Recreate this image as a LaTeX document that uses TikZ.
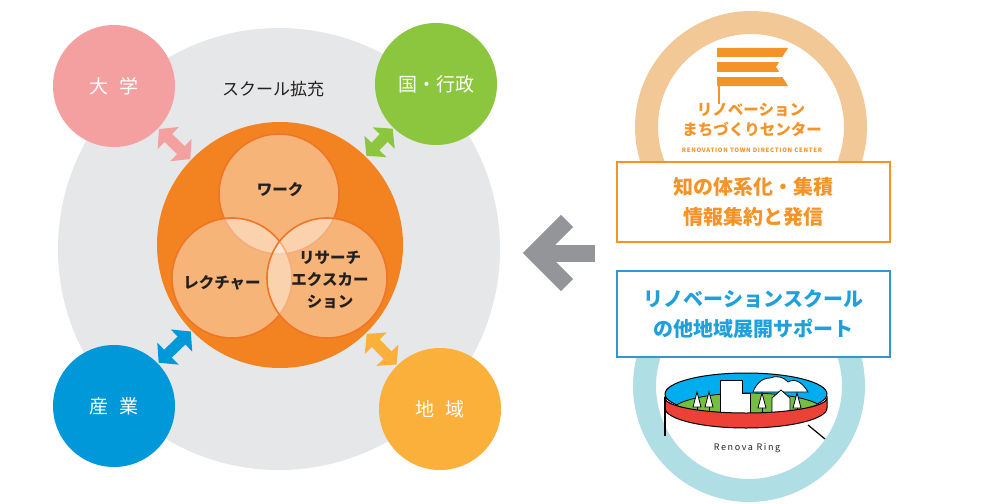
\documentclass[tikz,border=0pt]{standalone}
\usepackage{fontspec}
\setmainfont{Noto Sans CJK JP}
\usetikzlibrary{arrows.meta}
\definecolor{field}{RGB}{230,231,232}
\definecolor{core}{RGB}{243,130,32}
\definecolor{vennline}{RGB}{238,118,38}
\definecolor{rose}{RGB}{244,160,160}
\definecolor{lime}{RGB}{140,198,63}
\definecolor{sky}{RGB}{0,152,216}
\definecolor{sun}{RGB}{251,176,59}
\definecolor{slate}{RGB}{147,149,152}
\definecolor{peach}{RGB}{241,200,150}
\definecolor{tangerine}{RGB}{244,148,40}
\definecolor{azure}{RGB}{30,160,222}
\definecolor{boxblue}{RGB}{50,150,210}
\definecolor{mint}{RGB}{175,222,228}
\definecolor{water}{RGB}{0,174,239}
\definecolor{grass}{RGB}{118,190,67}
\definecolor{band}{RGB}{237,64,55}
\definecolor{ink}{RGB}{35,32,32}
\tikzset{
  disc/.style={circle,fill=#1,inner sep=0pt},
  party/.style={circle,fill=#1,inner sep=0pt,minimum size=122pt,text=white,
    font=\fontsize{19}{19}\selectfont},
  venn/.style={circle,fill=white,fill opacity=0.4,draw=vennline,line width=1.6pt,
    inner sep=0pt,minimum size=120pt},
  vtag/.style={font=\fontsize{15.5}{22}\selectfont\bfseries,text=ink,align=center},
  link/.style={draw=#1,line width=11pt,shorten <=1pt,shorten >=1pt,
    {Triangle[width=30pt,length=13pt]}-{Triangle[width=30pt,length=13pt]}},
  back/.style={draw=slate,line width=17pt,line join=miter},
  ring/.style={circle,draw=#1,line width=23pt,inner sep=0pt,minimum size=209pt},
  panel/.style={draw=#1,line width=1.2pt,fill=white,minimum width=273pt,align=center,
    text=#1,font=\fontsize{20}{30}\selectfont\bfseries},
  logo/.style={text=tangerine,font=\fontsize{15.5}{15.5}\selectfont\bfseries},
  pics/tree/.style={code={
    \filldraw[fill=white,draw=black,line width=0.8pt] (-4,0) -- (0,-15) -- (4,0) -- cycle;
    \draw[line width=0.8pt] (0,0) -- (0,4);
  }},
}

\begin{document}
\begin{tikzpicture}[x=1pt,y=-1pt]
  \useasboundingbox (0,0) rectangle (981,503);

  % school field and core
  \node[disc=field,minimum size=442pt] (school) at (279,249) {};
  \node[font=\fontsize{17}{17}\selectfont,text=ink] (expand) at (273,89) {スクール拡充};
  \node[disc=core,minimum size=246pt] (core) at (280,245) {};

  % three overlapping activities
  \node[venn] (work) at (279,194) {};
  \node[venn] (lecture) at (232,278) {};
  \node[venn] (research) at (327,278) {};
  \node[vtag] (worktag) at (280,190) {ワーク};
  \node[vtag] (lecturetag) at (222,283) {レクチャー};
  \node[vtag] (researchtag) at (330,280) {リサーチ\\エクスカー\\ション};

  % partners around the field
  \node[party=rose] (univ) at (114,86) {大\hspace{11pt}学};
  \node[party=lime] (gov) at (436,84) {国・行政};
  \node[party=sky] (industry) at (114,406) {産\hspace{11pt}業};
  \node[party=sun] (region) at (440,409) {地\hspace{11pt}域};

  \draw[link=rose] (univ) -- (core);
  \draw[link=lime] (gov) -- (core);
  \draw[link=sky] (industry) -- (core);
  \draw[link=sun] (region) -- (core);

  % feedback arrow
  \coordinate (tail) at (595,253);
  \coordinate (tip) at (535,253);
  \draw[back] (tail) -- (tip);
  \draw[back] ([shift={(32,-32)}]tip) -- (tip) -- ([shift={(32,32)}]tip);

  % town direction center
  \node[ring=peach] (center) at (751,127) {};
  \fill[tangerine] (717,48) -- (788,48) -- (776,67) -- (788,86) -- (717,86) -- cycle;
  \fill[white] (715,57) rectangle (790,62);
  \fill[white] (715,72) rectangle (790,77);
  \draw[tangerine,line width=2.2pt] (719,85) -- (719,104);
  \node[logo] (logoa) at (751,110) {リノベーション};
  \node[logo] (logob) at (752,130) {まちづくりセンター};
  \node[text=tangerine,font=\fontsize{6}{6}\selectfont\bfseries\addfontfeatures{LetterSpace=12}] (logoc) at (752,150)
    {RENOVATION TOWN DIRECTION CENTER};
  \node[panel=tangerine,minimum height=80pt] (knowledge) at (753.5,202) {知の体系化・集積\\情報集約と発信};

  % renovation ring
  \node[ring=mint] (ringlogo) at (749,386) {};
  \filldraw[fill=water,draw=black,line width=1pt] (746,394) ellipse [x radius=81pt,y radius=21pt];
  \begin{scope}
    \clip (746,394) ellipse [x radius=81pt,y radius=21pt];
    \filldraw[fill=grass,draw=black,line width=0.8pt] (748,412) ellipse [x radius=77pt,y radius=19pt];
  \end{scope}
  \filldraw[fill=white,draw=black,line width=0.8pt]
    (753,392) .. controls (756,384) and (762,378) .. (770,378)
    .. controls (776,375) and (784,377) .. (788,382)
    .. controls (795,378) and (802,382) .. (808,392) -- cycle;
  \filldraw[fill=white,draw=black,line width=0.8pt]
    (720,415) -- (720,380) -- (742,380) -- (742,393) -- (750,393) -- (750,415) -- cycle;
  \filldraw[fill=white,draw=black,line width=0.8pt]
    (772,415) -- (772,398) -- (781,390) -- (790,398) -- (790,415) -- cycle;
  \foreach \tx/\ty in {697/407,709/407,762/408,797/408}
    \pic at (\tx,\ty) {tree};
  \filldraw[fill=band,draw=black,line width=1pt]
    (665,398) arc[start angle=180,end angle=360,x radius=81pt,y radius=15pt]
    -- (827,408) arc[start angle=0,end angle=-180,x radius=81pt,y radius=20pt] -- cycle;
  \draw[line width=1.2pt] (665,397) -- (665,436);
  \draw[line width=1.2pt] (808,425) -- (825,439);
  \node[text=ink,font=\fontsize{9}{9}\selectfont\addfontfeatures{LetterSpace=18}] (ringname) at (747,448) {Renova Ring};
  \node[panel=azure,draw=boxblue,minimum height=86pt] (support) at (753.5,314)
    {リノベーションスクール\\の他地域展開サポート};
\end{tikzpicture}
\end{document}
